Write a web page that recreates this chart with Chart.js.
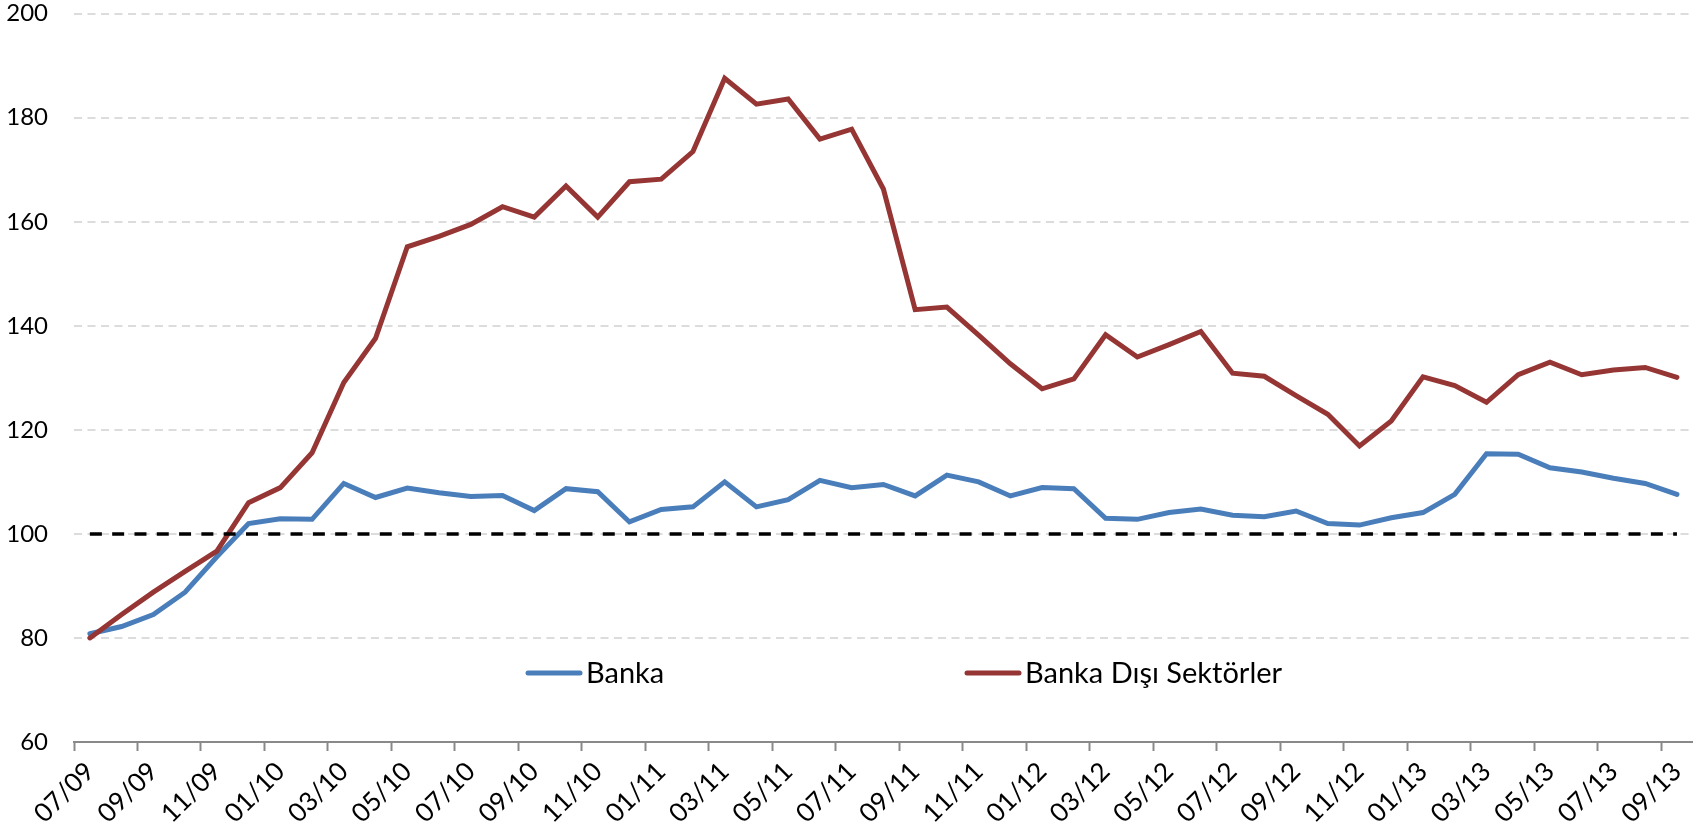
<!DOCTYPE html>
<html lang="tr">
<head>
<meta charset="utf-8">
<title>Banka ve Banka Dışı Sektörler</title>
<script src="https://cdn.jsdelivr.net/npm/chart.js@4.4.0/dist/chart.umd.min.js"></script>
<style>
  html, body { margin: 0; padding: 0; background: #fff; }
  #wrap { width: 1704px; height: 828px; }
</style>
</head>
<body>
<div id="wrap"><canvas id="endeksChart" width="1704" height="828"></canvas></div>
<script>
// Aylar (AA/YY)
const months = [
    '07/09', '08/09', '09/09', '10/09', '11/09', '12/09',
    '01/10', '02/10', '03/10', '04/10', '05/10', '06/10', '07/10', '08/10', '09/10', '10/10', '11/10', '12/10',
    '01/11', '02/11', '03/11', '04/11', '05/11', '06/11', '07/11', '08/11', '09/11', '10/11', '11/11', '12/11',
    '01/12', '02/12', '03/12', '04/12', '05/12', '06/12', '07/12', '08/12', '09/12', '10/12', '11/12', '12/12',
    '01/13', '02/13', '03/13', '04/13', '05/13', '06/13', '07/13', '08/13', '09/13'
];

const banka = [
    80.8, 82.2, 84.5, 88.8, 95.6, 102.0,
    102.9, 102.8, 109.7, 107.0, 108.8, 107.9, 107.2, 107.4, 104.5, 108.7, 108.1, 102.3,
    104.7, 105.2, 110.0, 105.2, 106.6, 110.3, 108.9, 109.5, 107.3, 111.3, 110.0, 107.3,
    108.9, 108.7, 103.0, 102.8, 104.1, 104.8, 103.6, 103.3, 104.4, 102.0, 101.7, 103.1,
    104.1, 107.6, 115.4, 115.3, 112.7, 111.9, 110.7, 109.7, 107.6
];

const bankaDisi = [
    80.0, 84.5, 88.8, 92.8, 96.7, 106.0,
    108.9, 115.6, 129.1, 137.6, 155.2, 157.2, 159.5, 162.9, 160.9, 166.9, 160.9, 167.7,
    168.2, 173.5, 187.6, 182.6, 183.6, 175.9, 177.8, 166.3, 143.1, 143.6, 138.2, 132.7,
    127.9, 129.8, 138.3, 134.0, 136.4, 138.9, 130.9, 130.3, 126.6, 123.0, 116.9, 121.7,
    130.2, 128.5, 125.3, 130.6, 133.0, 130.6, 131.5, 132.0, 130.1
];

// 100 referans çizgisi
const referans = [
    100, 100, 100, 100, 100, 100,
    100, 100, 100, 100, 100, 100, 100, 100, 100, 100, 100, 100,
    100, 100, 100, 100, 100, 100, 100, 100, 100, 100, 100, 100,
    100, 100, 100, 100, 100, 100, 100, 100, 100, 100, 100, 100,
    100, 100, 100, 100, 100, 100, 100, 100, 100
];

const yTicks = [60, 80, 100, 120, 140, 160, 180, 200];

const BLUE = '#4a7ebb';
const RED = '#963634';
const AXIS_GRAY = '#898989';
const FONT = 'Lato, "Open Sans", sans-serif';

// Lejant grafik alanının içinde, alt kısımda
const insideLegend = {
    id: 'insideLegend',
    afterDraw(chart) {
        const ctx = chart.ctx;
        const legendX = [528, 967];
        const y = 673;
        const items = chart.data.datasets.filter(ds => ds.showInLegend);

        ctx.save();
        ctx.font = '29px ' + FONT;
        ctx.textBaseline = 'middle';
        ctx.textAlign = 'left';
        items.forEach((ds, i) => {
            const x = legendX[i];
            ctx.beginPath();
            ctx.lineCap = 'round';
            ctx.lineWidth = 5;
            ctx.strokeStyle = ds.borderColor;
            ctx.moveTo(x, y);
            ctx.lineTo(x + 52, y);
            ctx.stroke();
            ctx.fillStyle = '#000';
            ctx.fillText(ds.label, x + 58, y + 1);
        });
        ctx.restore();
    }
};

const ctx = document.getElementById('endeksChart').getContext('2d');

new Chart(ctx, {
    type: 'line',
    data: {
        labels: months,
        datasets: [
            {
                label: 'Banka',
                data: banka,
                borderColor: BLUE,
                backgroundColor: BLUE,
                borderWidth: 5,
                pointRadius: 0,
                borderCapStyle: 'round',
                tension: 0,
                order: 3,
                showInLegend: true
            },
            {
                label: 'Banka Dışı Sektörler',
                data: bankaDisi,
                borderColor: RED,
                backgroundColor: RED,
                borderWidth: 5,
                pointRadius: 0,
                borderCapStyle: 'round',
                tension: 0,
                order: 2,
                showInLegend: true
            },
            {
                label: '100',
                data: referans,
                borderColor: '#000',
                borderWidth: 3.5,
                borderDash: [12, 10.3],
                pointRadius: 0,
                tension: 0,
                order: 1,
                showInLegend: false
            }
        ]
    },
    options: {
        responsive: false,
        devicePixelRatio: 1,
        animation: false,
        layout: {
            padding: { top: 2, right: 0, bottom: 0, left: 0 }
        },
        plugins: {
            legend: { display: false },
            tooltip: { enabled: false }
        },
        scales: {
            x: {
                type: 'category',
                offset: true,
                grid: {
                    offset: true,
                    drawOnChartArea: false,
                    drawTicks: true,
                    tickLength: 9,
                    tickWidth: 2,
                    color: AXIS_GRAY,
                    tickColor: (c) => (c.index % 2 === 0 ? AXIS_GRAY : 'rgba(0,0,0,0)')
                },
                border: { display: true, color: AXIS_GRAY, width: 2 },
                ticks: {
                    autoSkip: false,
                    minRotation: 45,
                    maxRotation: 45,
                    padding: 5,
                    color: '#000',
                    font: { family: FONT, size: 26 },
                    callback: function (value, index) {
                        return index % 2 === 0 ? this.getLabelForValue(value) : '';
                    }
                },
                afterFit: (scale) => { scale.height = 86; }
            },
            y: {
                min: yTicks[0],
                max: yTicks[yTicks.length - 1],
                afterBuildTicks: (scale) => {
                    scale.ticks = yTicks.map(v => ({ value: v }));
                },
                grid: {
                    color: (c) => (c.tick && c.tick.value === yTicks[0] ? 'rgba(0,0,0,0)' : '#dcdcdc'),
                    lineWidth: 2,
                    drawTicks: false,
                    borderDash: [8, 5.5]
                },
                border: { display: false, dash: [8, 5.5] },
                ticks: {
                    padding: 26,
                    color: '#000',
                    font: { family: FONT, size: 24 }
                },
                afterFit: (scale) => {
                    scale.width = 74;
                    scale.paddingTop = 13.7;
                    scale.paddingBottom = 0;
                }
            }
        }
    },
    plugins: [insideLegend]
});
</script>
</body>
</html>
